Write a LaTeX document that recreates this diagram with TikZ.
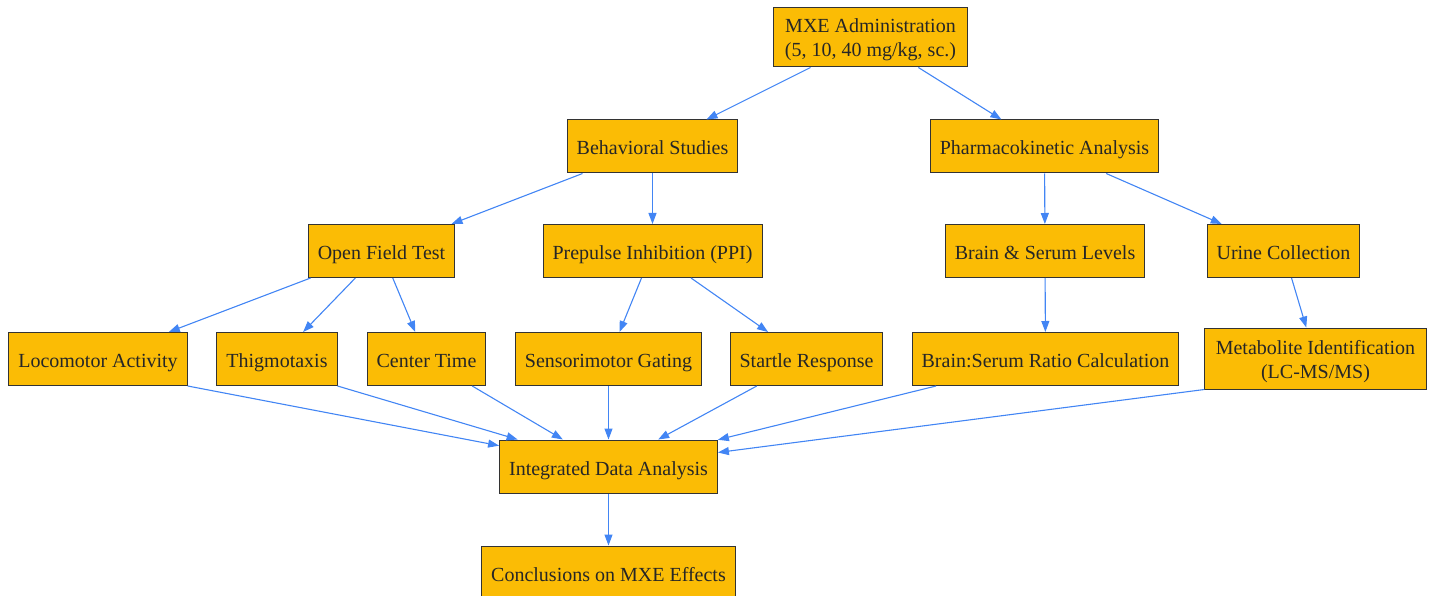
\documentclass[tikz,border=0pt]{standalone}
\usepackage{fontspec}
\setmainfont{Liberation Serif}
\usetikzlibrary{arrows.meta}
\definecolor{mxe-yellow}{HTML}{FBBC05}
\definecolor{mxe-blue}{HTML}{4285F4}
\tikzset{
    box/.style={rectangle, draw=black!80, line width=1pt, fill=mxe-yellow, text=black!85,
        minimum height=53pt, inner xsep=9.5pt, align=center,
        font=\fontsize{20}{24}\selectfont},
    onebox/.style={box, text height=20pt, text depth=3pt},
    twobox/.style={box, inner xsep=11pt, inner ysep=4pt, text height=44pt, text depth=5pt},
    flow/.style={->, draw=mxe-blue, line width=1.1pt},
    >={Triangle[length=11pt,width=8pt]}
}

\begin{document}
\begin{tikzpicture}[x=1pt, y=-1pt]
    \useasboundingbox (0,0) rectangle (1436,596);

    \node[twobox, minimum height=59pt] (mxe) at (870.5, 37.5) {MXE Administration\\(5, 10, 40 mg/kg, sc.)};

    \node[onebox] (beh) at (652.5, 146.5) {Behavioral Studies};
    \node[onebox] (pk)  at (1044.5, 146.5) {Pharmacokinetic Analysis};

    \node[onebox] (oft)   at (381.5, 251) {Open Field Test};
    \node[onebox] (ppi)   at (652.5, 251) {Prepulse Inhibition (PPI)};
    \node[onebox] (lvl)   at (1045, 251) {Brain \& Serum Levels};
    \node[onebox] (urine) at (1283.5, 251) {Urine Collection};

    \node[onebox] (loco)  at (98, 359) {Locomotor Activity};
    \node[onebox] (thig)  at (277, 359) {Thigmotaxis};
    \node[onebox] (ctr)   at (426.5, 359) {Center Time};
    \node[onebox] (gate)  at (608.5, 359) {Sensorimotor Gating};
    \node[onebox] (star)  at (806.5, 359) {Startle Response};
    \node[onebox] (ratio) at (1045.5, 359) {Brain:Serum Ratio Calculation};
    \node[twobox, minimum height=61pt] (meta) at (1315.5, 358.5) {Metabolite Identification\\(LC-MS/MS)};

    \node[onebox] (ida)  at (608.5, 466.5) {Integrated Data Analysis};
    \node[onebox] (conc) at (608.5, 572.5) {Conclusions on MXE Effects};

    \draw[flow] (mxe) -- (beh);
    \draw[flow] (mxe) -- (pk);

    \draw[flow] (beh) -- (oft);
    \draw[flow] (beh) -- (ppi);
    \draw[flow] (pk) -- (lvl);
    \draw[flow] (pk) -- (urine);

    \draw[flow] (oft) -- (loco);
    \draw[flow] (oft) -- (thig);
    \draw[flow] (oft) -- (ctr);
    \draw[flow] (ppi) -- (gate);
    \draw[flow] (ppi) -- (star);
    \draw[flow] (lvl) -- (ratio);
    \draw[flow] (urine) -- (meta);

    \draw[flow] (loco.south east) -- (ida);
    \draw[flow] (thig.south east) -- (ida);
    \draw[flow] (ctr) -- (ida);
    \draw[flow] (gate) -- (ida);
    \draw[flow] (star) -- (ida);
    \draw[flow] (ratio) -- (ida);
    \draw[flow] (meta.south west) -- (ida);

    \draw[flow] (ida) -- (conc);

\end{tikzpicture}
\end{document}
